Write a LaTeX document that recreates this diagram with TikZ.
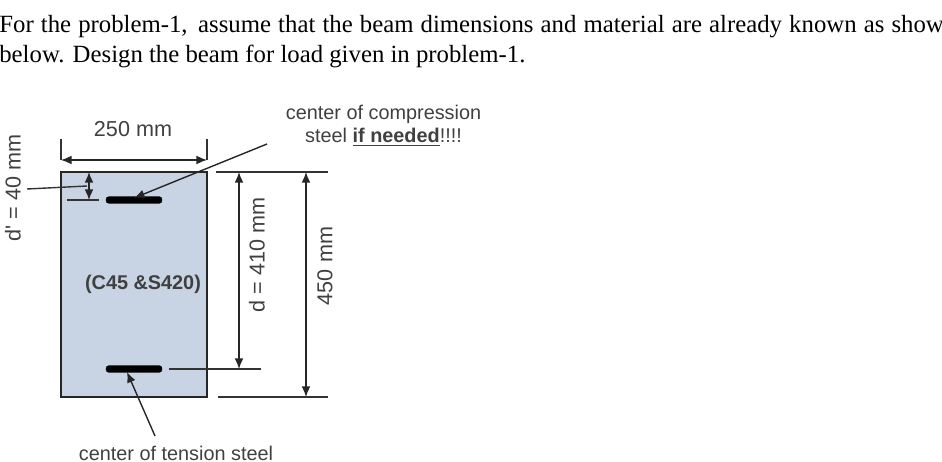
\documentclass[tikz,border=0pt]{standalone}
\usepackage{fontspec}
\setmainfont{Liberation Serif}
\newfontfamily\labelfont{Liberation Sans}
\usepackage{xcolor}
\usetikzlibrary{arrows.meta}
\definecolor{beamblue}{HTML}{C8D4E4}
\definecolor{labelgray}{HTML}{404040}
\tikzset{
  dimline/.style={thick,black!85,>={Latex[length=6pt,width=5pt]}},
  extline/.style={thick,black!80},
  bartext/.style={text=labelgray,font=\labelfont\fontsize{11.3}{13}\selectfont,inner sep=0pt,align=center},
  dimtext/.style={bartext,font=\labelfont\fontsize{12.3}{14}\selectfont},
  headtext/.style={anchor=base west,inner sep=0pt,font=\fontsize{14.1}{16}\selectfont},
  rebar/.style={fill=black,rounded corners=1.5pt,minimum width=32pt,minimum height=4pt,inner sep=0pt}
}
\begin{document}
\begin{tikzpicture}[x=0.02cm,y=-0.02cm]
        \useasboundingbox (0,0) rectangle (942,462);
        \clip (0,0) rectangle (942,462);

        % Draw the problem text
        \node[headtext] (line1) at (-1,33) {\spaceskip=4.05pt For the problem-1,\hspace{6pt}assume that the beam dimensions and material are already known as show};
        \node[headtext] (line2) at (-1,63) {below. Design the beam for load given in problem-1.};

        % Draw the beam section
        \draw[thick,black!85,fill=beamblue] (61,172) coordinate (tl) rectangle (207,397) coordinate (br);
        \coordinate (tr) at (207,172);
        \coordinate (bl) at (61,397);
        \node[bartext] (grade) at (143,284) {\textbf{(C45 \&S420)}};

        % Draw the steel bars
        \node[rebar] (topbar) at (134,200) {};
        \node[rebar] (botbar) at (134,369) {};

        % Draw width dimension
        \node[dimtext] (width) at (133,129) {250 mm};
        \coordinate (wl) at (61,160);
        \coordinate (wr) at (207,160);
        \coordinate (wlt) at (61,139);
        \coordinate (wrt) at (207,139);
        \draw[extline] (wlt) -- (wl);
        \draw[extline] (wrt) -- (wr);
        \draw[<->,dimline] (wl) -- (wr);

        % Draw cover dimension
        \node[dimtext,rotate=90] (cover) at (13,188) {d' = 40 mm};
        \coordinate (ca) at (89,172);
        \coordinate (cb) at (89,200);
        \coordinate (cl) at (67,200);
        \coordinate (cr) at (99,200);
        \coordinate (cs) at (27,189);
        \coordinate (ce) at (87,186);
        \draw[<->,dimline] (ca) -- (cb);
        \draw[extline] (cl) -- (cr);
        \draw[extline] (cs) -- (ce);

        % Draw depth dimensions
        \coordinate (ta) at (216,172);
        \coordinate (tb) at (328,172);
        \coordinate (ma) at (169,369);
        \coordinate (mb) at (261,369);
        \coordinate (ba) at (218,397);
        \coordinate (bb) at (328,397);
        \draw[extline] (ta) -- (tb);
        \draw[extline] (ma) -- (mb);
        \draw[extline] (ba) -- (bb);
        \coordinate (da) at (239,172);
        \coordinate (db) at (239,369);
        \coordinate (ha) at (306,172);
        \coordinate (hb) at (306,397);
        \draw[<->,dimline] (da) -- (db);
        \draw[<->,dimline] (ha) -- (hb);
        \node[dimtext,rotate=90] (dlabel) at (257,255) {d = 410 mm};
        \node[dimtext,rotate=90] (hlabel) at (325,266) {450 mm};

        % Draw steel labels
        \node[bartext] (comp) at (383.5,126) {center of compression\\steel \underline{\textbf{if needed}}!!!!};
        \node[bartext] (tens) at (176,453) {center of tension steel};
        \coordinate (cstart) at (267,144);
        \coordinate (tstart) at (155,436);
        \draw[->,dimline] (cstart) -- (134,198);
        \draw[->,dimline] (tstart) -- (127,372);
    \end{tikzpicture}
\end{document}
